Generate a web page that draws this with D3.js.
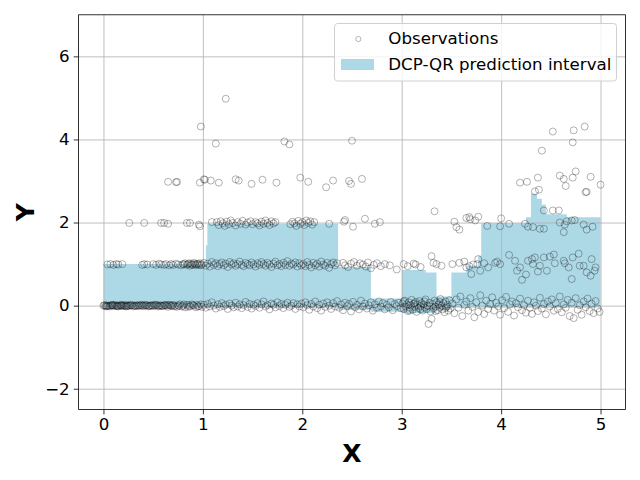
<!DOCTYPE html>
<html>
<head>
<meta charset="utf-8">
<script src="https://cdn.jsdelivr.net/npm/d3@7"></script>
<style>
body { margin: 0; background: #fff; }
text { font-family: "DejaVu Sans", sans-serif; }
</style>
</head>
<body>
<script>
//SVG dimension variables
var w = 640, h = 480;

// tick values for both axes
var xTicks = [0, 1, 2, 3, 4, 5];
var yTicks = [-2, 0, 2, 4, 6];

// prediction interval (step edges)
var bandX  = [0, 1.03, 1.045, 2.36, 2.69, 3.0, 3.24, 3.35, 3.5, 3.65, 3.77, 3.80, 4.25, 4.30, 4.36, 4.41, 4.45, 4.66, 5.0];
var bandHi = [1.0, 1.45, 1.97, 0.93, 0.17, 0.86, 0.80, 0.22, 0.80, 0.96, 1.2, 1.98, 2.13, 2.69, 2.57, 2.43, 2.2, 2.13, 2.13];
var bandLo = [-0.03, -0.05, -0.05, -0.1, -0.15, -0.18, -0.18, -0.1, -0.05, -0.05, -0.05, -0.05, -0.05, -0.05, -0.05, -0.05, -0.05, -0.05, -0.05];

// observations around Y = 0
var obsRow0 = [
  [0.00,0.00],[0.02,-0.01],[0.03,0.01],[0.05,0.00],[0.06,-0.02],[0.08,0.01],[0.09,0.00],[0.11,-0.01],[0.12,0.02],[0.14,0.00],
  [0.15,-0.02],[0.17,0.01],[0.18,0.00],[0.19,-0.01],[0.21,0.00],[0.23,0.02],[0.24,-0.01],[0.26,0.00],[0.28,0.01],[0.30,-0.02],
  [0.31,0.00],[0.33,0.01],[0.35,-0.01],[0.37,0.00],[0.38,0.02],[0.40,-0.01],[0.42,0.00],[0.43,0.01],[0.45,-0.02],[0.47,0.00],
  [0.48,0.01],[0.50,-0.01],[0.52,0.00],[0.53,0.02],[0.55,-0.02],[0.57,0.01],[0.58,0.00],[0.60,-0.01],[0.62,0.02],[0.63,0.00],
  [0.65,-0.03],[0.67,0.01],[0.68,-0.01],[0.70,0.02],[0.72,0.00],[0.74,-0.03],[0.75,0.01],[0.77,0.03],[0.79,-0.02],[0.80,0.00],
  [0.82,-0.04],[0.84,0.02],[0.86,0.01],[0.87,-0.02],[0.89,0.03],[0.91,0.00],[0.93,-0.04],[0.94,0.02],[0.96,-0.01],[0.98,0.03],
  [0.99,-0.03],[0.01,0.01],[0.04,-0.01],[0.07,0.00],[0.10,0.01],[0.13,-0.01],[0.16,0.00],[0.20,0.01],[0.22,-0.01],[0.25,0.00],
  [0.29,0.01],[0.32,-0.01],[0.36,0.01],[0.39,0.00],[0.44,0.01],[0.49,0.00],[0.54,0.01],[0.59,-0.01],[0.64,0.01],[0.69,0.00],
  [0.03,-0.02],[0.09,0.02],[0.14,-0.01],[0.18,0.02],[0.23,-0.02],[0.27,0.01],[0.34,0.00],[0.41,0.02],[0.46,-0.01],[0.51,0.02],
  [0.56,-0.01],[0.61,0.01],[0.66,0.02],[0.71,-0.02],[0.76,-0.01],[0.81,0.03],[0.85,-0.03],[0.90,0.01],[0.95,-0.02],
  [1.01,0.02],[1.03,-0.05],[1.05,0.04],[1.07,-0.02],[1.09,0.08],[1.11,0.00],[1.13,-0.07],[1.15,0.03],[1.17,-0.03],[1.19,0.06],
  [1.21,-0.01],[1.23,0.02],[1.25,-0.08],[1.27,0.05],[1.29,0.00],[1.31,-0.04],[1.33,0.07],[1.35,-0.02],[1.37,0.03],[1.39,-0.06],
  [1.41,0.01],[1.43,0.09],[1.45,-0.03],[1.47,0.04],[1.49,-0.07],[1.51,0.02],[1.53,-0.01],[1.55,0.06],[1.57,-0.05],[1.59,0.03],
  [1.61,0.10],[1.63,-0.02],[1.65,0.01],[1.67,-0.09],[1.69,0.05],[1.71,0.02],[1.73,-0.04],[1.75,0.08],[1.77,-0.01],[1.79,0.04],
  [1.81,-0.06],[1.83,0.02],[1.85,0.07],[1.87,-0.03],[1.89,0.00],[1.91,0.06],[1.93,-0.08],[1.95,0.03],[1.97,-0.02],[1.99,0.05],
  [2.01,-0.04],[2.03,0.08],[2.05,0.01],[2.07,-0.10],[2.09,0.04],[2.11,-0.02],[2.13,0.10],[2.15,-0.06],[2.17,0.02],[2.19,-0.12],
  [2.21,0.05],[2.23,-0.03],[2.25,0.08],[2.27,0.00],[2.29,-0.08],[2.31,0.06],[2.33,-0.02],[2.35,0.11],[2.37,-0.05],[2.39,0.03],
  [2.41,-0.11],[2.43,0.07],[2.45,-0.01],[2.47,0.04],[2.49,-0.14],[2.51,0.09],[2.53,-0.04],[2.55,0.02],[2.57,-0.09],[2.59,0.12],
  [2.61,-0.02],[2.63,0.05],[2.65,-0.07],[2.67,0.01],[2.69,0.08],[2.71,-0.12],[2.73,0.03],[2.75,-0.05],[2.77,0.10],[2.79,-0.02],
  [2.81,0.06],[2.83,-0.09],[2.85,0.02],[2.87,-0.04],[2.89,0.09],[2.91,-0.11],[2.93,0.04],[2.95,-0.01],[2.97,0.07],[2.99,-0.06],
  [3.01,0.05],[3.02,-0.08],[3.03,0.12],[3.04,-0.02],[3.05,0.03],[3.06,-0.13],[3.07,0.08],[3.08,-0.05],[3.09,0.01],[3.10,0.14],
  [3.11,-0.10],[3.12,0.04],[3.13,-0.03],[3.14,0.09],[3.15,-0.15],[3.16,0.02],[3.17,-0.06],[3.18,0.11],[3.19,-0.01],[3.20,0.06],
  [3.21,-0.12],[3.22,0.03],[3.23,-0.04],[3.24,0.15],[3.25,-0.08],[3.26,0.00],[3.27,-0.44],[3.28,0.07],[3.29,-0.14],[3.30,-0.32],
  [3.31,0.04],[3.32,-0.06],[3.33,0.12],[3.34,-0.02],[3.35,0.08],[3.36,-0.11],[3.37,0.03],[3.38,-0.05],[3.39,0.16],[3.40,0.00],
  [3.41,-0.09],[3.42,0.06],[3.43,-0.16],[3.44,0.10],[3.45,-0.03],[3.46,0.02],[3.47,-0.12],[3.48,0.13],[3.49,-0.07],
  [3.02,0.10],[3.08,-0.12],[3.13,0.06],[3.19,-0.09],[3.23,0.10],[3.28,-0.02],[3.34,-0.13],[3.38,0.09],[3.44,-0.06],
  [3.51,0.05],[3.53,-0.18],[3.55,0.15],[3.57,-0.05],[3.59,0.22],[3.61,-0.25],[3.63,0.02],[3.65,0.10],[3.67,-0.12],[3.69,0.18],
  [3.71,-0.03],[3.73,-0.28],[3.75,0.08],[3.77,-0.15],[3.79,0.25],[3.81,0.00],[3.83,-0.20],[3.85,0.12],[3.87,-0.08],[3.89,0.04],
  [3.91,0.20],[3.93,-0.12],[3.95,0.07],[3.97,-0.02],[3.99,-0.22],[4.01,0.13],[4.03,-0.06],[4.05,0.21],[4.07,-0.15],[4.09,0.03],
  [4.11,0.10],[4.13,-0.24],[4.15,0.06],[4.17,-0.04],[4.19,0.17],[4.21,-0.11],[4.23,0.01],[4.25,-0.17],[4.27,0.12],[4.29,-0.05],
  [4.31,-0.20],[4.33,0.08],[4.35,0.00],[4.37,-0.13],[4.39,0.19],[4.41,-0.07],[4.43,0.04],[4.45,-0.21],[4.47,0.10],[4.49,-0.02],
  [4.51,0.15],[4.53,-0.12],[4.55,0.06],[4.57,-0.08],[4.59,0.22],[4.61,-0.16],[4.63,0.03],[4.65,-0.05],[4.67,0.14],[4.69,-0.25],
  [4.71,0.07],[4.73,-0.30],[4.75,0.18],[4.77,-0.10],[4.79,0.01],[4.81,-0.22],[4.83,0.10],[4.85,-0.04],[4.87,0.17],[4.89,-0.13],
  [4.91,0.05],[4.93,-0.18],[4.95,0.11],[4.97,-0.07],[4.99,-0.15]
];

// observations around Y = 1
var obsRow1 = [
  [0.04,0.99],[0.07,1.00],[0.10,0.98],[0.13,1.00],[0.15,0.99],[0.19,1.00],[0.39,0.98],[0.41,1.00],[0.44,0.99],[0.50,1.00],
  [0.53,0.98],[0.56,1.01],[0.58,0.99],[0.61,0.98],[0.63,1.00],[0.66,0.97],[0.68,1.00],[0.70,0.98],[0.73,1.01],[0.75,0.99],
  [0.78,0.97],[0.80,1.00],[0.82,1.02],[0.84,0.98],[0.85,1.00],[0.87,0.96],[0.88,1.01],[0.90,0.99],[0.91,1.03],[0.93,0.97],
  [0.94,1.00],[0.96,0.98],[0.97,1.02],[0.99,0.99],[0.81,0.99],[0.86,1.02],[0.89,0.98],[0.92,1.00],[0.95,1.01],[0.98,0.97],
  [1.01,1.03],[1.03,0.96],[1.05,1.01],[1.07,0.94],[1.09,1.05],[1.11,0.98],[1.13,1.02],[1.15,0.95],[1.17,1.00],[1.19,1.04],
  [1.21,0.97],[1.23,1.01],[1.25,0.93],[1.27,1.05],[1.29,0.99],[1.31,1.02],[1.33,0.96],[1.35,1.00],[1.37,1.06],[1.39,0.98],
  [1.41,0.95],[1.43,1.03],[1.45,1.00],[1.47,0.97],[1.49,1.04],[1.51,0.99],[1.53,0.94],[1.55,1.02],[1.57,0.98],[1.59,1.05],
  [1.61,1.00],[1.63,0.96],[1.65,1.03],[1.67,0.99],[1.69,0.93],[1.71,1.01],[1.73,1.06],[1.75,0.97],[1.77,1.00],[1.79,0.95],
  [1.81,1.03],[1.83,0.98],[1.85,1.07],[1.87,0.96],[1.89,1.01],[1.91,0.99],[1.93,1.04],[1.95,0.94],[1.97,1.02],[1.99,0.97],
  [2.01,1.00],[2.03,0.95],[2.05,1.05],[2.07,0.98],[2.09,0.92],[2.11,1.03],[2.13,0.97],[2.15,1.01],[2.17,0.94],[2.19,1.06],
  [2.21,0.99],[2.23,0.96],[2.25,1.03],[2.27,0.91],[2.29,1.00],[2.31,1.04],[2.33,0.97],[2.35,1.02],
  [2.41,1.03],[2.43,0.97],[2.46,0.93],[2.49,1.01],[2.52,1.05],[2.55,0.96],[2.58,1.02],[2.61,0.99],[2.64,0.94],[2.66,1.04],
  [2.69,0.90],[2.72,0.98],[2.75,1.02],[2.79,0.95],[2.83,1.00],[2.88,0.97],[2.95,0.87],[3.02,1.00],[3.06,0.95],[3.12,1.01],
  [3.14,0.99],[3.19,0.93],
  [3.30,1.19],[3.32,1.03],[3.35,1.00],[3.40,0.96],[3.51,1.00],[3.58,1.03],[3.63,1.06],[3.65,0.92],[3.68,0.95],[3.70,0.76],
  [3.72,0.99],[3.77,1.12],[3.76,1.00],[3.79,0.84],[3.83,1.02],[3.87,0.92],[3.94,1.03],[3.96,1.06],[3.99,1.00],[4.08,1.22],
  [4.14,1.08],[4.16,0.84],[4.19,0.92],[4.21,0.62],[4.25,0.75],[4.27,1.08],[4.31,1.12],[4.32,1.00],[4.34,1.16],[4.37,0.82],
  [4.39,0.96],[4.43,1.16],[4.46,0.84],[4.49,1.18],[4.53,1.23],[4.54,1.02],[4.63,1.08],[4.64,1.02],[4.68,0.92],[4.72,1.16],
  [4.71,0.64],[4.78,1.25],[4.79,0.96],[4.83,0.96],[4.86,0.80],[4.90,0.72],[4.91,1.12],[4.94,0.84],[4.95,0.92]
];

// observations around Y = 2
var obsRow2 = [
  [0.26,1.99],[0.41,1.99],[0.58,1.99],[0.61,1.99],[0.65,1.97],[0.84,1.99],[0.87,1.99],[0.96,1.95],[0.97,1.91],[1.09,2.01],
  [1.14,2.01],[1.16,1.94],[1.18,2.03],[1.20,1.98],[1.22,1.92],[1.24,2.02],[1.26,1.96],[1.28,2.05],[1.30,1.99],[1.33,1.93],
  [1.35,2.01],[1.38,1.97],[1.40,2.04],[1.43,1.95],[1.45,2.00],[1.48,2.03],[1.50,1.96],[1.53,2.01],[1.55,1.98],[1.57,1.93],
  [1.59,2.02],[1.61,1.97],[1.63,2.05],[1.65,1.99],[1.67,1.94],[1.69,2.03],[1.71,1.98],[1.73,2.01],[1.88,1.96],[1.90,2.02],
  [1.92,1.98],[1.94,1.92],[1.96,2.04],[1.98,1.97],[2.00,2.01],[2.02,1.94],[2.04,2.05],[2.06,1.99],[2.08,2.03],[2.10,1.95],
  [2.12,2.01],[2.27,1.97],[2.43,2.06],[2.42,2.02],[2.51,1.90],[2.63,2.09],[2.73,1.97],[2.78,2.01],
  [3.53,2.02],[3.55,1.89],[3.58,1.83],[3.65,2.11],[3.68,2.13],[3.69,2.08],[3.74,2.05],[3.77,2.14],
  [3.86,1.92],[3.99,1.91],[4.00,2.10],[4.08,1.97],[4.24,1.97],[4.27,1.90],[4.32,1.89],[4.39,1.85],[4.43,1.85],[4.43,2.29],
  [4.52,2.29],[4.58,2.29],[4.59,2.00],[4.64,1.95],[4.66,2.03],[4.71,2.05],[4.74,2.06],[4.63,1.77],[4.83,1.95],[4.86,1.83],
  [4.92,1.90]
];

// observations at Y = 3 and above
var obsHigh = [
  [1.23,4.98],[0.98,4.31],[1.13,3.90],[0.65,2.98],[0.73,2.97],[0.74,2.98],[0.97,2.96],[1.01,3.04],[1.02,3.03],[1.08,3.01],
  [1.16,2.96],[1.33,3.04],[1.36,3.01],[1.49,2.93],[1.60,3.03],[1.74,2.96],[1.82,3.95],[1.87,3.88],[1.98,3.08],[2.06,2.98],
  [2.24,2.85],[2.31,3.01],[2.47,3.00],[2.49,2.93],[2.50,3.97],[2.60,3.05],[3.33,2.27],
  [4.52,4.19],[4.73,4.22],[4.84,4.31],[4.72,3.93],[4.41,3.73],[4.19,2.96],[4.26,2.98],[4.37,3.08],[4.34,2.75],[4.38,2.79],
  [4.59,3.13],[4.63,3.05],[4.65,2.88],[4.72,3.08],[4.75,3.23],[4.90,3.10],[5.00,2.91],[4.85,2.73],[4.86,2.74]
];

var allObs = obsRow0.concat(obsRow1, obsRow2, obsHigh);

// Create a container only once
var container = d3.select("body")
    .append("svg")
    .attr("width", w)
    .attr("height", h)
    .attr("class", "container");

// plot box (names avoid the window.top global)
var plotL = 78.6, plotR = 625.4, plotT = 14.8, plotB = 409.5;

// Create scale generators
var x = d3.scaleLinear()
    .domain([-0.25, 5.25])
    .range([plotL, plotR]);

var y = d3.scaleLinear()
    .domain([-2.5, 7])
    .range([plotB, plotT]);

// Create the prediction interval band
var band = d3.area()
    .curve(d3.curveStepAfter)
    .x(function(d, i){ return x(bandX[i]); })
    .y0(function(d, i){ return y(bandLo[i]); })
    .y1(function(d, i){ return y(bandHi[i]); });

container.append("path")
    .attr("class", "band")
    .datum(bandX)
    .attr("d", band)
    .style("fill", "lightblue");

// Create grid lines (above the band, below the points)
container.append("g")
    .attr("class", "xgrid")
    .attr("transform", "translate(0," + plotB + ")")
    .call(d3.axisBottom(x).tickValues(xTicks).tickSize(-(plotB - plotT)).tickFormat(""))
    .call(function(g){
        g.select(".domain").remove();
        g.selectAll("line").attr("stroke", "#b0b0b0").attr("stroke-width", 0.8);
    });

container.append("g")
    .attr("class", "ygrid")
    .attr("transform", "translate(" + plotL + ",0)")
    .call(d3.axisLeft(y).tickValues(yTicks).tickSize(-(plotR - plotL)).tickFormat(""))
    .call(function(g){
        g.select(".domain").remove();
        g.selectAll("line").attr("stroke", "#b0b0b0").attr("stroke-width", 0.8);
    });

// Create circles
container.append("g")
    .attr("class", "obs")
    .selectAll("circle")
    .data(allObs)
    .enter()
    .append("circle")
    .attr("cx", function(d){ return x(d[0]); })
    .attr("cy", function(d){ return y(d[1]); })
    .attr("r", 3.5)
    .style("fill", "none")
    .style("stroke", "#000")
    .style("stroke-opacity", 0.3)
    .style("stroke-width", 1);

// Create axis
container.append("g")
    .attr("class", "axis")
    .attr("transform", "translate(0," + plotB + ")")
    .call(d3.axisBottom(x).tickValues(xTicks).tickSize(4.9).tickPadding(4).tickFormat(d3.format("d")));

container.append("g")
    .attr("class", "axis")
    .attr("transform", "translate(" + plotL + ",0)")
    .call(d3.axisLeft(y).tickValues(yTicks).tickSize(4.9).tickPadding(4)
        .tickFormat(function(d){ return d < 0 ? "\u2212" + Math.abs(d) : String(d); }));

container.selectAll(".axis .domain").remove();
container.selectAll(".axis line").attr("stroke", "#000").attr("stroke-width", 0.8);
container.selectAll(".axis text")
    .style("font-family", "DejaVu Sans")
    .style("font-size", "16.67px")
    .attr("fill", "#000");

// frame
container.append("rect")
    .attr("x", plotL)
    .attr("y", plotT)
    .attr("width", plotR - plotL)
    .attr("height", plotB - plotT)
    .style("fill", "none")
    .style("stroke", "#000")
    .style("stroke-width", 0.8);

// axis titles
container.append("text")
    .attr("x", (plotL + plotR) / 2)
    .attr("y", 462)
    .attr("text-anchor", "middle")
    .style("font-size", "25px")
    .style("font-weight", "bold")
    .text("X");

container.append("text")
    .attr("transform", "translate(34," + ((plotT + plotB) / 2) + ") rotate(-90)")
    .attr("text-anchor", "middle")
    .style("font-size", "25px")
    .style("font-weight", "bold")
    .text("Y");

// legend
var legend = container.append("g")
    .attr("class", "legend");

legend.append("rect")
    .attr("x", 334.5)
    .attr("y", 23.5)
    .attr("width", 282)
    .attr("height", 57.5)
    .attr("rx", 3)
    .style("fill", "#fff")
    .style("fill-opacity", 0.8)
    .style("stroke", "#d0d0d0")
    .style("stroke-width", 1);

legend.append("circle")
    .attr("cx", 358.3)
    .attr("cy", 39)
    .attr("r", 2.6)
    .style("fill", "none")
    .style("stroke", "#000")
    .style("stroke-opacity", 0.28);

legend.append("rect")
    .attr("x", 341)
    .attr("y", 59)
    .attr("width", 33)
    .attr("height", 11)
    .style("fill", "lightblue");

legend.append("text")
    .attr("x", 388.3)
    .attr("y", 44.3)
    .style("font-size", "16.67px")
    .text("Observations");

legend.append("text")
    .attr("x", 388.3)
    .attr("y", 70)
    .style("font-size", "16.67px")
    .text("DCP-QR prediction interval");
</script>
</body>
</html>
